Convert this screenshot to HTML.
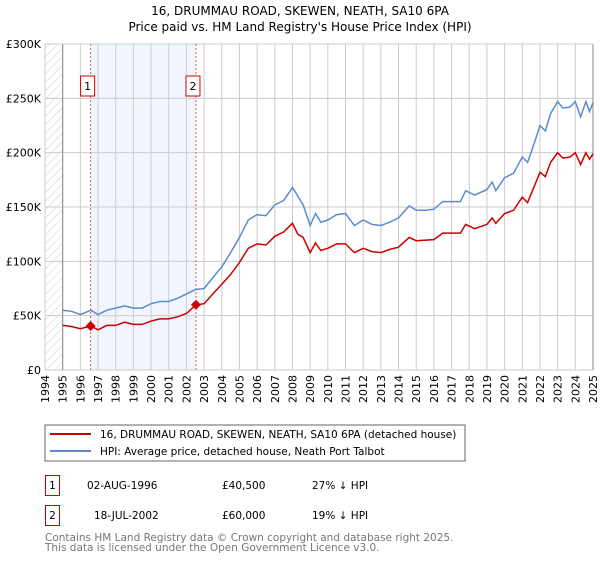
<!DOCTYPE html>
<html><head><meta charset="utf-8"><style>
body{margin:0;background:#fff;font-family:"DejaVu Sans","Liberation Sans",sans-serif;}
svg text{font-family:"DejaVu Sans","Liberation Sans",sans-serif;}
</style></head><body>
<svg id="c" width="600" height="560" viewBox="0 0 600 560" xmlns="http://www.w3.org/2000/svg">
<defs><pattern id="hatch" width="6" height="6" patternUnits="userSpaceOnUse" patternTransform="rotate(45)"><line x1="0" y1="0" x2="0" y2="6" stroke="#ccc" stroke-width="1"/></pattern></defs>
<text x="300" y="15" text-anchor="middle" font-size="12">16, DRUMMAU ROAD, SKEWEN, NEATH, SA10 6PA</text>
<text x="300" y="31" text-anchor="middle" font-size="12">Price paid vs. HM Land Registry's House Price Index (HPI)</text>
<g id="plot"></g>
<rect x="45" y="425" width="420" height="36" fill="#fff" stroke="#666"/>
<line x1="50" y1="434" x2="91" y2="434" stroke="#cc0000" stroke-width="2"/>
<text x="100" y="438" font-size="10.5">16, DRUMMAU ROAD, SKEWEN, NEATH, SA10 6PA (detached house)</text>
<line x1="50" y1="451" x2="91" y2="451" stroke="#5b8bd0" stroke-width="2"/>
<text x="100" y="455" font-size="10.5">HPI: Average price, detached house, Neath Port Talbot</text>
<g>
<rect x="45.5" y="475.5" width="14" height="20" fill="#fff" stroke="#cc0000"/>
<text x="52.5" y="489" text-anchor="middle" font-size="10.5">1</text>
<text x="87" y="489" font-size="10.5">02-AUG-1996</text>
<text x="222" y="489" font-size="10.5">£40,500</text>
<text x="312" y="489" font-size="10.5">27% ↓ HPI</text>
</g>
<g>
<rect x="45.5" y="505.5" width="14" height="20" fill="#fff" stroke="#cc0000"/>
<text x="52.5" y="519" text-anchor="middle" font-size="10.5">2</text>
<text x="94" y="519" font-size="10.5">18-JUL-2002</text>
<text x="222" y="519" font-size="10.5">£60,000</text>
<text x="312" y="519" font-size="10.5">19% ↓ HPI</text>
</g>
<text x="45" y="541" font-size="10.5" fill="#777">Contains HM Land Registry data © Crown copyright and database right 2025.</text>
<text x="45" y="551" font-size="10.5" fill="#777">This data is licensed under the Open Government Licence v3.0.</text>
</svg>
<script>
const yTicks=[0,50000,100000,150000,200000,250000,300000];
const yTickLabels=["£0","£50K","£100K","£150K","£200K","£250K","£300K"];
const years=[1994,1995,1996,1997,1998,1999,2000,2001,2002,2003,2004,2005,2006,2007,2008,2009,2010,2011,2012,2013,2014,2015,2016,2017,2018,2019,2020,2021,2022,2023,2024,2025];
const hpiT=[1995,1995.5,1996,1996.6,1997,1997.5,1998,1998.5,1999,1999.5,2000,2000.5,2001,2001.5,2002,2002.5,2003,2003.5,2004,2004.5,2005,2005.5,2006,2006.5,2007,2007.5,2008,2008.3,2008.6,2009,2009.3,2009.6,2010,2010.5,2011,2011.5,2012,2012.5,2013,2013.5,2014,2014.6,2015,2015.5,2016,2016.5,2017,2017.5,2017.8,2018.3,2019,2019.3,2019.5,2020,2020.5,2021,2021.3,2021.6,2022,2022.3,2022.6,2023,2023.3,2023.7,2024,2024.3,2024.6,2024.8,2025];
const hpiV=[55000,54000,51000,55000,51000,55000,57000,59000,57000,57000,61000,63000,63000,66000,70000,74000,75000,85000,95000,108000,122000,138000,143000,142000,152000,156000,168000,160000,152000,133000,144000,136000,138000,143000,144000,133000,138000,134000,133000,136000,140000,151000,147000,147000,148000,155000,155000,155000,165000,161000,166000,173000,165000,177000,181000,196000,191000,205000,225000,220000,236000,247000,241000,242000,247000,233000,247000,238000,246000];
const ppT=[1995,1995.5,1996,1996.58,1997,1997.5,1998,1998.5,1999,1999.5,2000,2000.5,2001,2001.5,2002,2002.54,2003,2003.5,2004,2004.5,2005,2005.5,2006,2006.5,2007,2007.5,2008,2008.3,2008.6,2009,2009.3,2009.6,2010,2010.5,2011,2011.5,2012,2012.5,2013,2013.5,2014,2014.6,2015,2016,2016.5,2017,2017.5,2017.8,2018.3,2019,2019.3,2019.5,2020,2020.5,2021,2021.3,2021.6,2022,2022.3,2022.6,2023,2023.3,2023.7,2024,2024.3,2024.6,2024.8,2025];
const ppV=[41000,40000,38000,40500,37000,41000,41000,44000,42000,42000,45000,47000,47000,49000,52000,60000,61000,70000,79000,88000,99000,112000,116000,115000,123000,127000,135000,125000,122000,108000,117000,110000,112000,116000,116000,108000,112000,109000,108000,111000,113000,122000,119000,120000,126000,126000,126000,134000,130000,134000,140000,135000,144000,147000,159000,154000,166000,182000,178000,191000,200000,195000,196000,200000,189000,200000,194000,199000];
const saleT=[1996.58,2002.54];
const saleV=[40500,60000];
const saleLabels=["1","2"];
const X0=45,X1=593,Y0=370,Y1=44;
const x=t=>X0+(t-1994)/(2025-1994)*(X1-X0);
const y=v=>Y0-v/300000*(Y0-Y1);
const NS="http://www.w3.org/2000/svg";
const plot=document.getElementById('plot');
function mk(tag,attrs){const e=document.createElementNS(NS,tag);for(const k in attrs)e.setAttribute(k,attrs[k]);plot.appendChild(e);return e;}
let e;
e=mk('rect',{x:x(saleT[0]),y:Y1,width:x(saleT[1])-x(saleT[0]),height:Y0-Y1,fill:'#eef3fc',opacity:0.8});


e=mk('rect',{x:X0,y:Y1,width:x(1995)-X0,height:Y0-Y1,fill:'url(#hatch)'});


years.forEach(yr=>{
 e=mk('line',{x1:x(yr),x2:x(yr),y1:Y1,y2:Y0,stroke:'#ccc'});
 
 
 e=mk('text',{transform:`translate(${x(yr)+4},${Y0+5}) rotate(-90)`,'text-anchor':'end','font-size':11});
 e.textContent=yr;
 
 
});
yTicks.forEach((v,i)=>{
 e=mk('line',{x1:X0,x2:X1,y1:y(v),y2:y(v),stroke:'#ccc'});
 
 
 e=mk('text',{x:X0-4,y:y(v)+4,'text-anchor':'end','font-size':11});
 e.textContent=yTickLabels[i];
 
 
});
e=mk('line',{x1:x(1995),x2:x(1995),y1:Y1,y2:Y0,stroke:'#888'});


e=mk('line',{x1:X1,x2:X1,y1:Y1,y2:Y0,stroke:'#888'});


saleT.forEach((t,i)=>{
 e=mk('line',{x1:x(t),x2:x(t),y1:Y1,y2:Y0,stroke:'#e06060','stroke-dasharray':'2,2'});
 
 
 e=mk('rect',{x:x(t)-10,y:76,width:14,height:20,fill:'#fff',stroke:'#cc0000'});
 
 
 e=mk('text',{x:x(t)-3,y:90,'text-anchor':'middle','font-size':11});
 e.textContent=saleLabels[i];
 
 
});
e=mk('path',{d:hpiT.map((t,i)=>(i?'L':'M')+x(t).toFixed(1)+','+y(hpiV[i]).toFixed(1)).join(''),fill:'none',stroke:'#5b8bd0','stroke-width':1.5});


e=mk('path',{d:ppT.map((t,i)=>(i?'L':'M')+x(t).toFixed(1)+','+y(ppV[i]).toFixed(1)).join(''),fill:'none',stroke:'#cc0000','stroke-width':1.5});


saleT.forEach((t,i)=>{
 const cx=x(t),cy=y(saleV[i]);
 e=mk('path',{d:`M${cx-5},${cy}L${cx},${cy-5}L${cx+5},${cy}L${cx},${cy+5}Z`,fill:'#cc0000'});
 
 
});
</script>
</body></html>
